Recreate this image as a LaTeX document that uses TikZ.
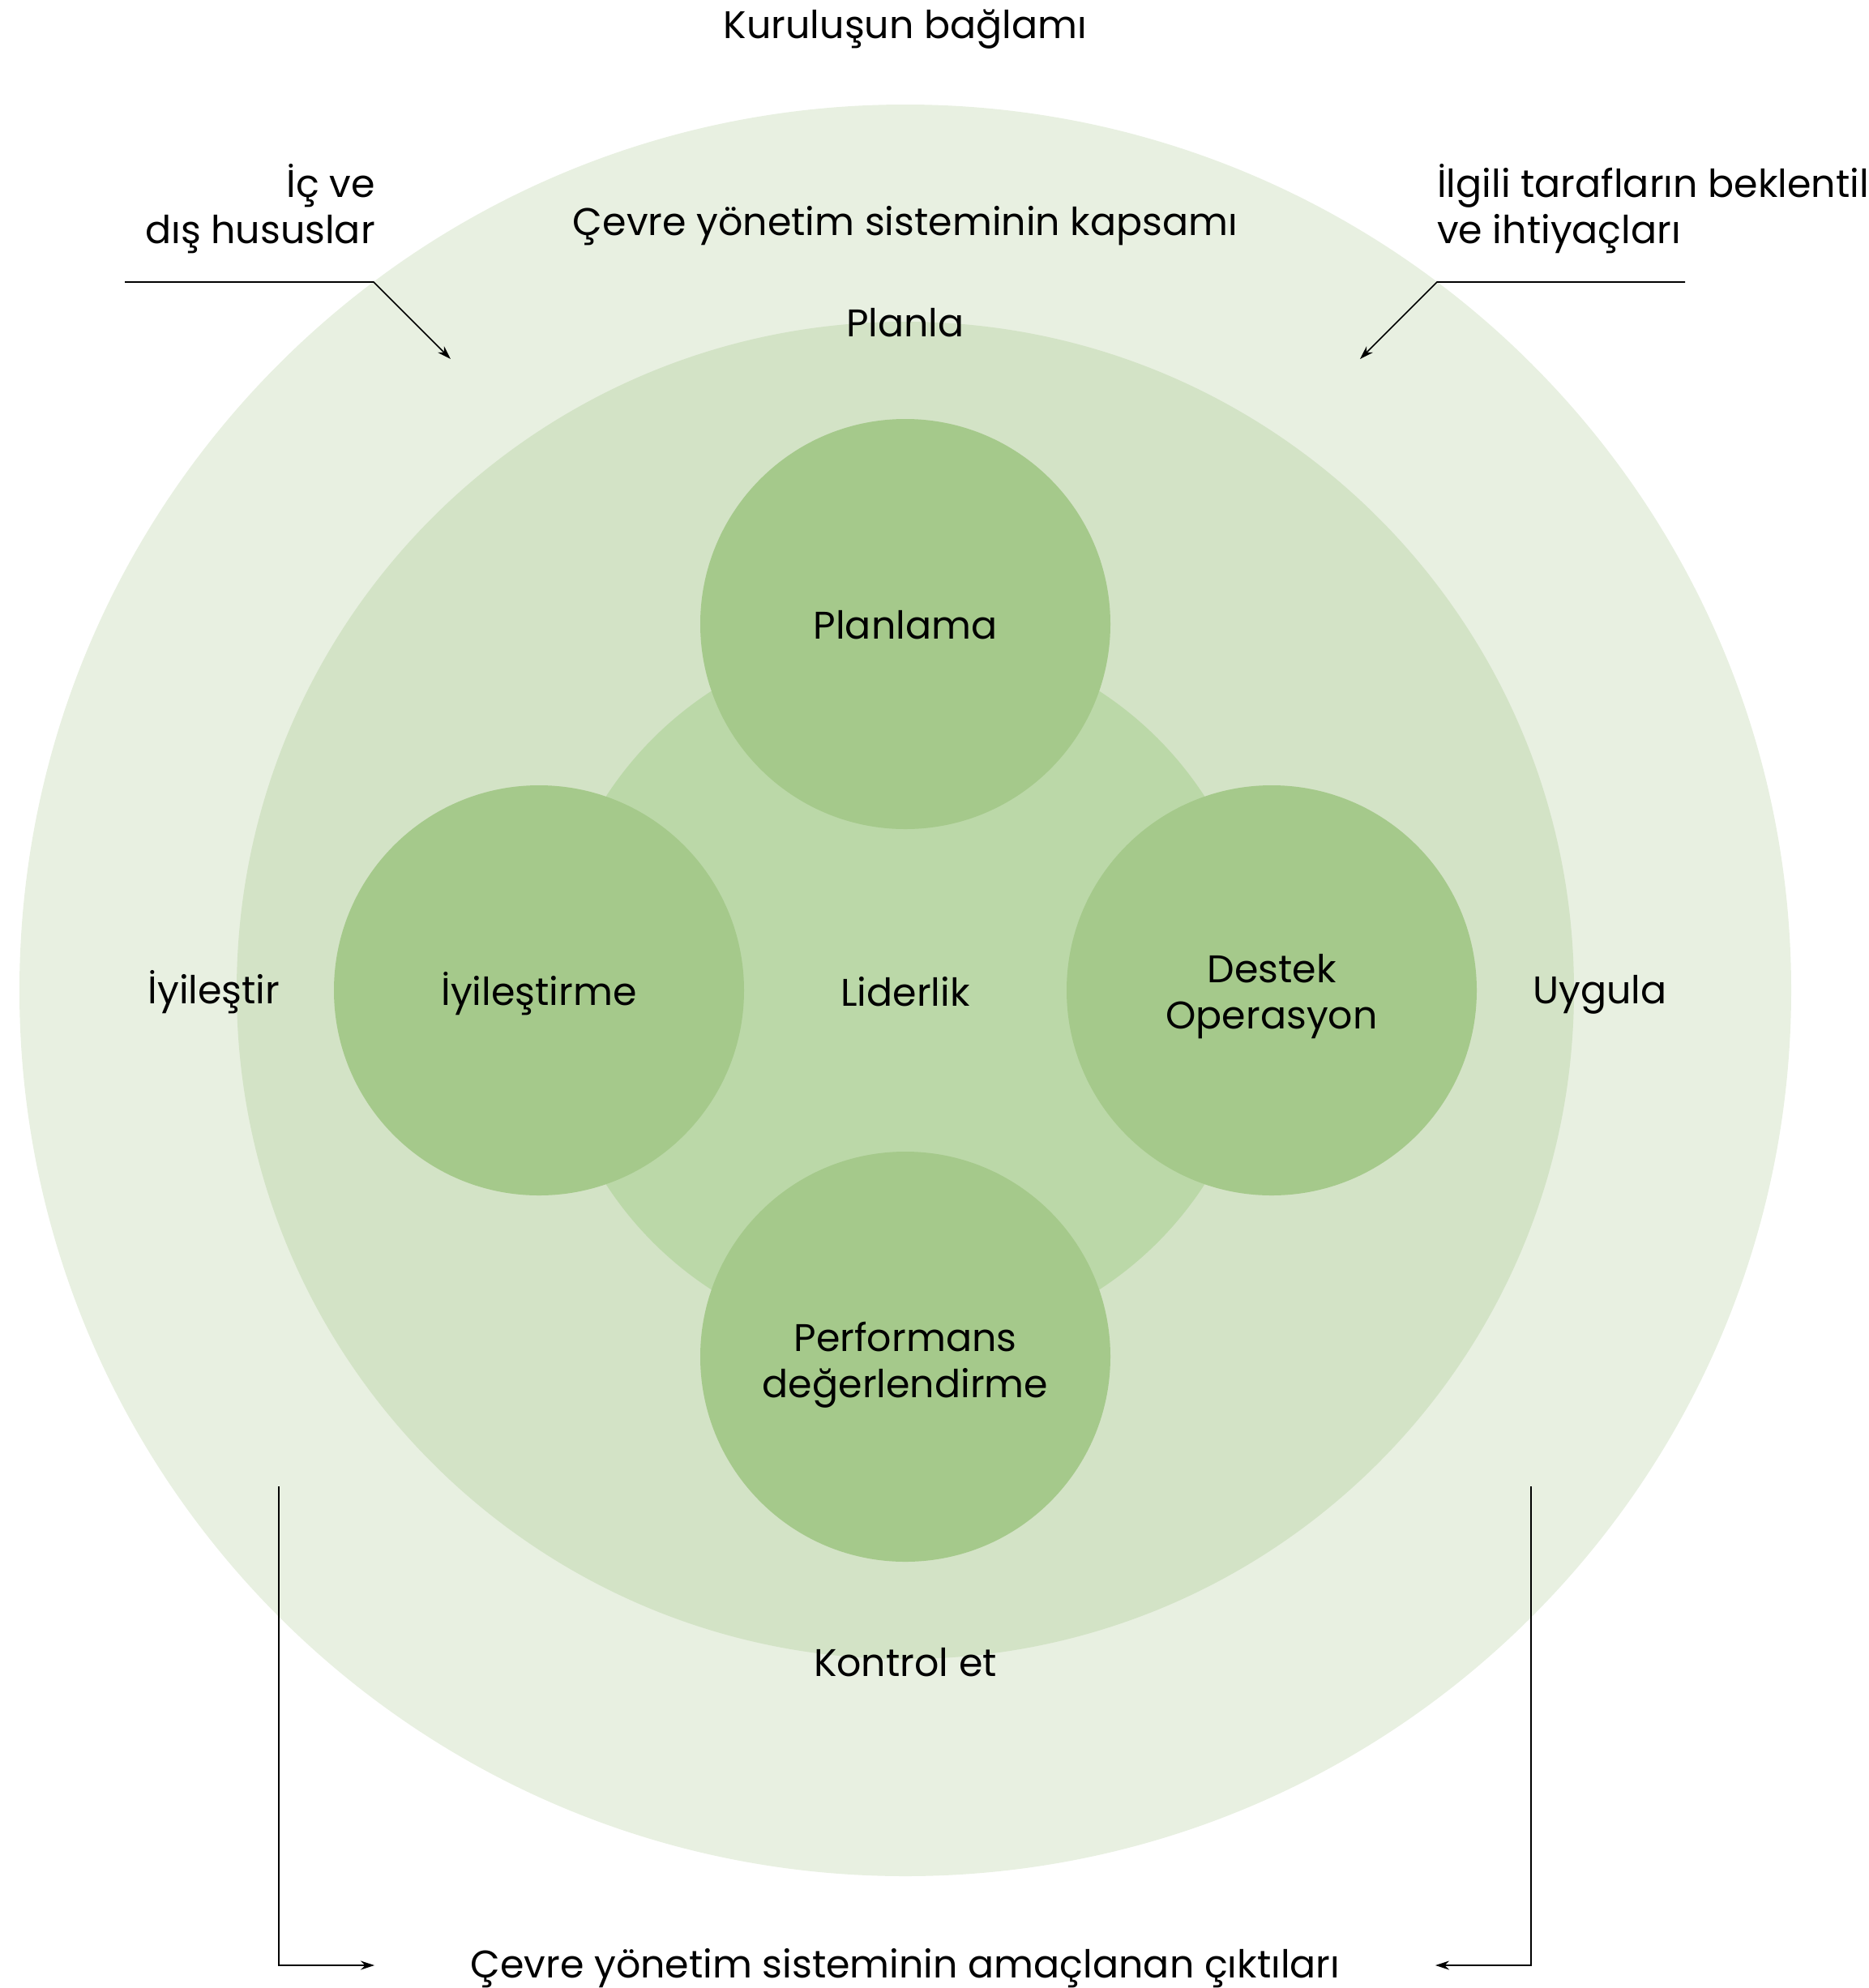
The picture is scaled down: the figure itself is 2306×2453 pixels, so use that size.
\documentclass[tikz,border=0pt]{standalone}
\usepackage{fontspec}
\setmainfont{Poppins}
\usetikzlibrary{arrows.meta}
\definecolor{ringA}{RGB}{232,240,225}
\definecolor{ringB}{RGB}{211,227,198}
\definecolor{ringC}{RGB}{187,216,168}
\definecolor{petal}{RGB}{165,201,139}
\begin{document}
\begin{tikzpicture}[x=1pt,y=-1pt,
  lbl/.style={font=\fontsize{47.5}{57}\selectfont, inner sep=0pt, text=black},
  disc/.style={circle, draw=none, inner sep=0pt},
  conn/.style={line width=1.6pt, draw=black},
  tipend/.style={-{Stealth[length=17pt,width=11pt]}}]
\useasboundingbox (0,0) rectangle (2306,2453);
\clip (0,0) rectangle (2306,2453);
% rings
\node[disc, fill=ringA, minimum size=2186pt] (outer) at (1117,1222) {};
\node[disc, fill=ringB, minimum size=1650pt] (middle) at (1117,1222) {};
\node[disc, fill=ringC, minimum size=880pt] (inner) at (1117,1222) {};
\node[disc, fill=petal, minimum size=506pt] (cplan) at (1117,770) {};
\node[disc, fill=petal, minimum size=506pt] (cimp) at (665,1222) {};
\node[disc, fill=petal, minimum size=506pt] (cdo) at (1569,1222) {};
\node[disc, fill=petal, minimum size=506pt] (cperf) at (1117,1674) {};
% labels
\node[lbl, anchor=base] (tcontext) at (1117,47) {Kuruluşun bağlamı};
\node[lbl, anchor=base] (tscope) at (1117,290) {Çevre yönetim sisteminin kapsamı};
\node[lbl, anchor=base east, align=right] (tissues) at (463,300) {İç ve\\dış hususlar};
\node[lbl, anchor=base west, align=left] (tparties) at (1773,300) {İlgili tarafların beklentileri\\ve ihtiyaçları};
\node[lbl, anchor=base] (tplanla) at (1117,415) {Planla};
\node[lbl, anchor=base] (tplanlama) at (1117,788) {Planlama};
\node[lbl, anchor=base] (timp) at (665,1240) {İyileştirme};
\node[lbl, anchor=base] (tlead) at (1117,1241) {Liderlik};
\node[lbl, anchor=base, align=center] (tdo) at (1569,1269) {Destek\\Operasyon};
\node[lbl, anchor=base, align=center] (tperf) at (1117,1724) {Performans\\değerlendirme};
\node[lbl, anchor=base] (tact) at (264,1238) {İyileştir};
\node[lbl, anchor=base] (tuygula) at (1974,1238) {Uygula};
\node[lbl, anchor=base] (tcheck) at (1117,2068) {Kontrol et};
\node[lbl, anchor=base] (tout) at (1117,2440) {Çevre yönetim sisteminin amaçlanan çıktıları};
% connectors
\coordinate (l1) at (154,348);
\coordinate (l2) at (461,348);
\coordinate (l3) at (556,443);
\coordinate (r1) at (2079,348);
\coordinate (r2) at (1773,348);
\coordinate (r3) at (1678,443);
\coordinate (bl1) at (344,1834);
\coordinate (bl2) at (344,2425);
\coordinate (bl3) at (462,2425);
\coordinate (br1) at (1889,1834);
\coordinate (br2) at (1889,2425);
\coordinate (br3) at (1771,2425);
\draw[conn, tipend] (l1) -- (l2) -- (l3);
\draw[conn, tipend] (r1) -- (r2) -- (r3);
\draw[conn, tipend] (bl1) -- (bl2) -- (bl3);
\draw[conn, tipend] (br1) -- (br2) -- (br3);
\end{tikzpicture}
\end{document}
